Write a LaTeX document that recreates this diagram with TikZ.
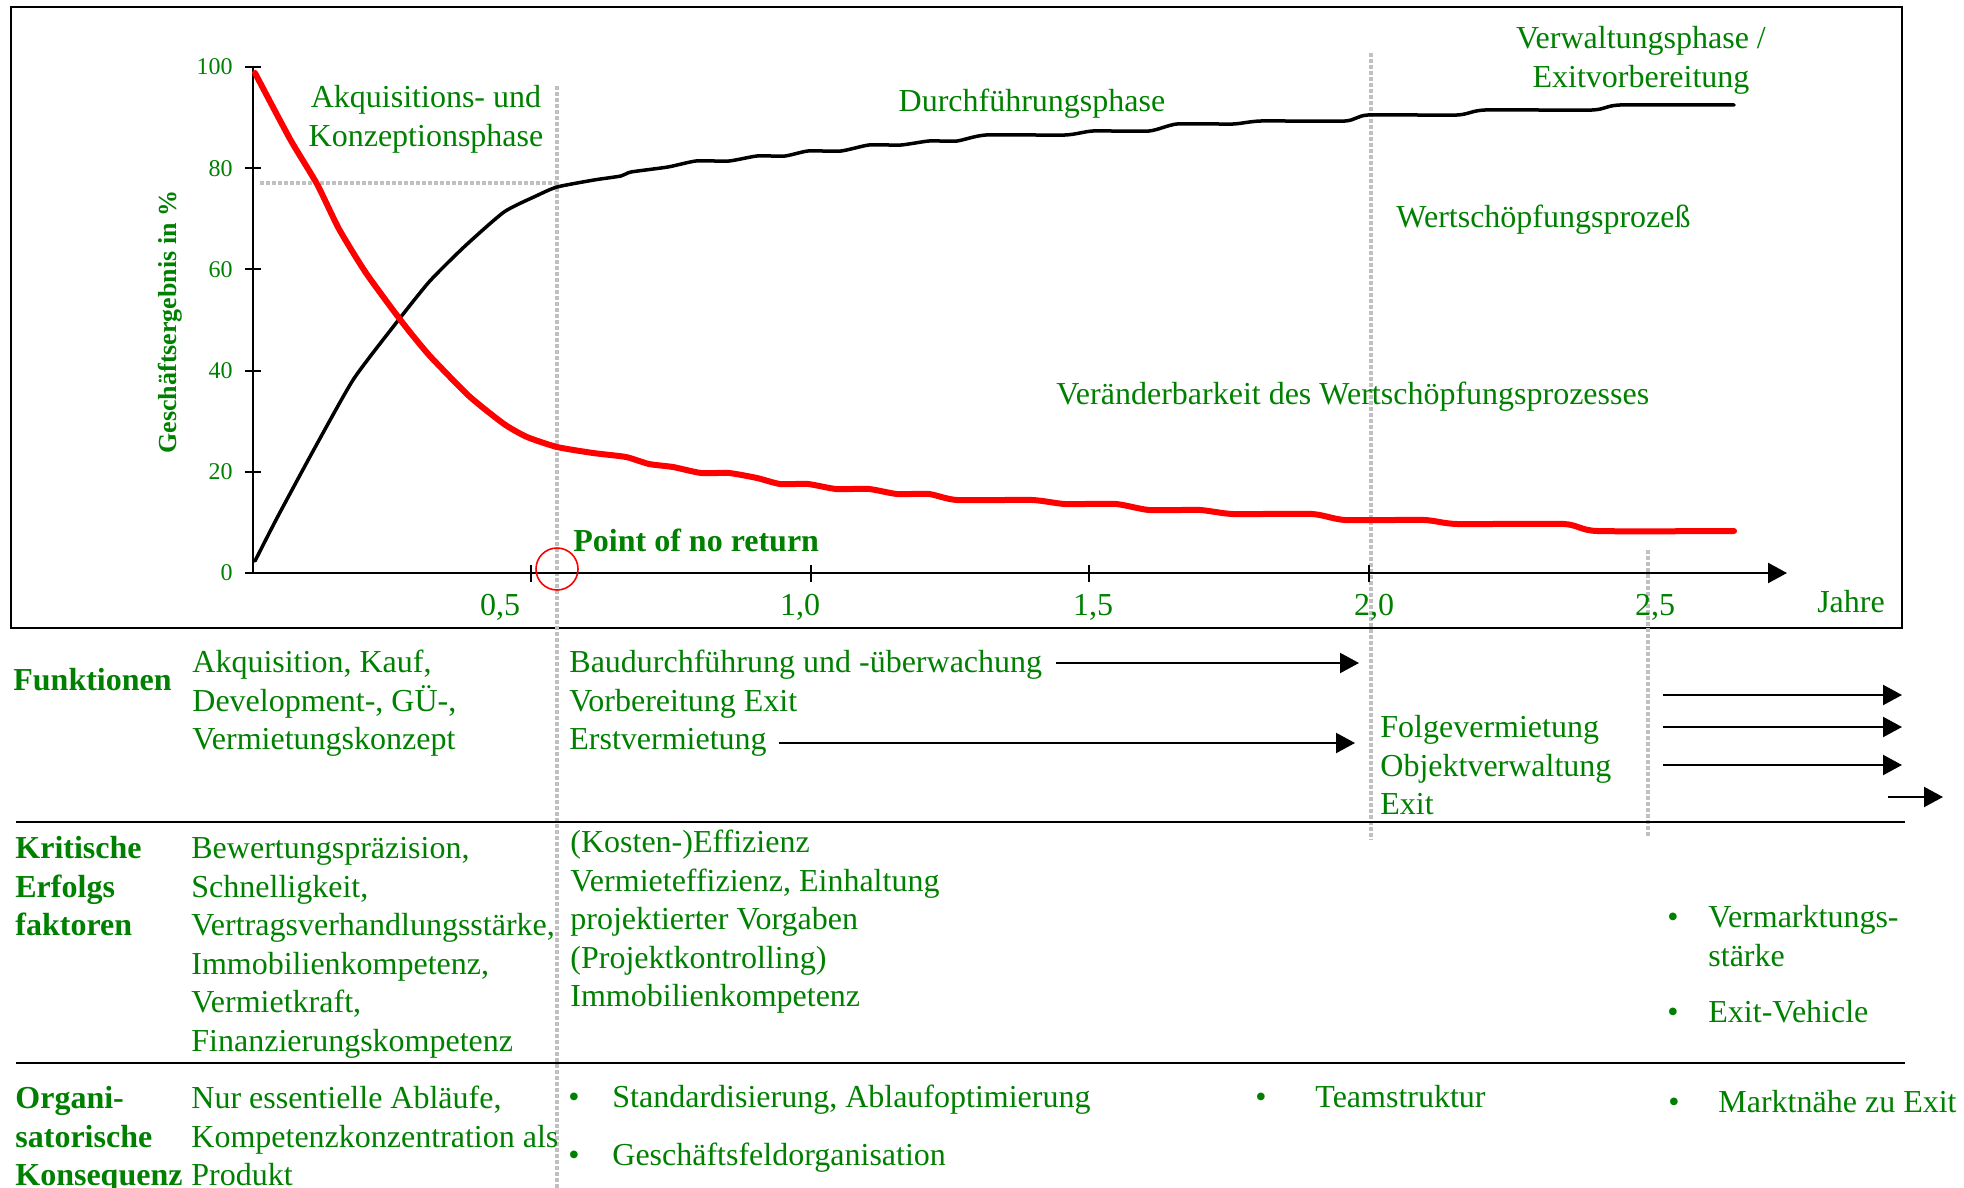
\documentclass[tikz,border=0pt]{standalone}
\usepackage{fontspec}
\setmainfont{Liberation Serif}
\usetikzlibrary{arrows.meta}
\definecolor{tgreen}{RGB}{0,128,0}
\definecolor{dgray}{RGB}{192,192,192}
\begin{document}
\begin{tikzpicture}[x=0.5pt,y=-0.5pt,
  txt/.style={text=tgreen,font=\fontsize{16}{19.3}\selectfont,inner sep=0pt},
  btxt/.style={text=tgreen,font=\fontsize{16}{19.3}\selectfont\bfseries,inner sep=0pt},
  ml/.style={align=left,anchor=north west},
  bl/.style={txt,anchor=base},
  arr/.style={line width=1.1pt,-{Triangle[length=9.5pt,width=10pt]}},
  axis/.style={line width=1.2pt},
  tick/.style={line width=1pt},
  dsh/.style={draw=dgray,line width=1.6pt,dash pattern=on 2pt off 1pt},
  ytl/.style={text=tgreen,font=\fontsize{12}{14}\selectfont,inner sep=0pt,anchor=east},
  xtl/.style={txt,anchor=base}]
\useasboundingbox (0,0) rectangle (1964,1188);
% frame of the chart
\draw[line width=1.2pt] (11,7) rectangle (1902,628);
% gray dashed guide lines
\draw[dsh] (557,86) -- (557,1188);
\draw[dsh] (1371,53) -- (1371,840);
\draw[dsh] (1648,550) -- (1648,836);
\draw[dsh] (260,183) -- (557,183);
% axes
\coordinate (O) at (253,573);
\coordinate (ytop) at (253,67);
\coordinate (xend) at (1787,573);
\draw[axis] (O) -- (ytop);
\draw[axis,-{Triangle[length=9.5pt,width=10pt]}] (O) -- (xend);
\foreach \v/\y in {100/67,80/168.2,60/269.4,40/370.6,20/471.8,0/573}{
  \draw[tick] (245,\y) -- (261,\y);
  \node[ytl] (yl\v) at (233,\y) {\v};
}
\foreach \x in {531,811,1089,1369}{
  \draw[tick] (\x,565) -- (\x,582);
}
\node[xtl] (x05) at (500,615) {0,5};
\node[xtl] (x10) at (800,615) {1,0};
\node[xtl] (x15) at (1093,615) {1,5};
\node[xtl] (x20) at (1374,615) {2,0};
\node[xtl] (x25) at (1655,615) {2,5};
\node[xtl] (jahre) at (1851,612) {Jahre};
\node[rotate=90,text=tgreen,font=\fontsize{13}{15}\selectfont\bfseries,inner sep=0pt] (ylab) at (170,322) {Geschäftsergebnis in \%};
% curves
\draw[black,line width=1.75pt,line cap=round,line join=round] plot[smooth,tension=0.35] coordinates {
 (255,561) (277,518) (312,453) (353,380) (393,327) (429,282) (464,247) (504,212) (536,196) (557,187)
 (594,180) (621,176) (631,172) (668,167) (696,161) (729,161) (757,156) (785,156) (808,151) (841,151)
 (869,145) (901,145) (929,141) (957,141) (986,135) (1065,135) (1093,131) (1149,131) (1177,124) (1233,124)
 (1261,121) (1345,121) (1368,115) (1457,115) (1485,110) (1592,110) (1620,105) (1734,105)};
\draw[red,line width=3pt,line cap=round,line join=round] plot[smooth,tension=0.35] coordinates {
 (255,73) (290,139) (317,184) (339,229) (366,273) (402,322) (429,355) (469,396) (504,424) (527,437) (557,447)
 (593,453) (626,457) (649,464) (673,467) (701,473) (729,473) (757,478) (780,484) (808,484) (836,489) (869,489)
 (897,494) (929,494) (957,500) (1032,500) (1065,504) (1116,504) (1149,510) (1200,510) (1233,514) (1312,514)
 (1345,520) (1424,520) (1457,524) (1564,524) (1597,531) (1734,531)};
% point of no return
\node[draw=red,line width=0.8pt,circle,minimum size=42*0.5pt,inner sep=0pt] (ponrc) at (557,569) {};
\node[btxt,anchor=base west] (ponr) at (573,551) {Point of no return};
% phase labels
\node[txt,align=center,anchor=north] (akq) at (426,80) {\strut Akquisitions- und\\Konzeptionsphase};
\node[txt,anchor=base] (durch) at (1032,112) {Durchführungsphase};
\node[txt,align=center,anchor=north] (verw) at (1641,21) {\strut Verwaltungsphase /\\Exitvorbereitung};
\node[txt,anchor=base west] (wert) at (1396,227) {Wertschöpfungsprozeß};
\node[txt,anchor=base west] (veraend) at (1056,404) {Veränderbarkeit des Wertschöpfungsprozesses};
% table separators
\draw[line width=1.2pt] (16,822) -- (1905,822);
\draw[line width=1.2pt] (16,1063) -- (1905,1063);
% row 1: Funktionen
\node[btxt,anchor=base west] (fkt) at (13,690) {Funktionen};
\node[txt,ml] (f2) at (192,645) {\strut Akquisition, Kauf,\\Development-, GÜ-,\\Vermietungskonzept};
\node[txt,ml] (f3) at (569,645) {\strut Baudurchführung und -überwachung\\Vorbereitung Exit\\Erstvermietung};
\node[txt,ml] (f4) at (1380,710) {\strut Folgevermietung\\Objektverwaltung\\Exit};
\coordinate (a1s) at (1056,663); \coordinate (a1e) at (1359,663);
\coordinate (a2s) at (779,743);  \coordinate (a2e) at (1355,743);
\coordinate (a3s) at (1663,695); \coordinate (a3e) at (1902,695);
\coordinate (a4s) at (1663,727); \coordinate (a4e) at (1902,727);
\coordinate (a5s) at (1663,765); \coordinate (a5e) at (1902,765);
\coordinate (a6s) at (1888,797); \coordinate (a6e) at (1943,797);
\draw[arr] (a1s) -- (a1e);
\draw[arr] (a2s) -- (a2e);
\draw[arr] (a3s) -- (a3e);
\draw[arr] (a4s) -- (a4e);
\draw[arr] (a5s) -- (a5e);
\draw[arr] (a6s) -- (a6e);
% row 2: Kritische Erfolgsfaktoren
\node[btxt,ml] (kef) at (15,831) {\strut Kritische\\Erfolgs\\faktoren};
\node[txt,ml] (k2) at (191,831) {\strut Bewertungspräzision,\\Schnelligkeit,\\Vertragsverhandlungsstärke,\\Immobilienkompetenz,\\Vermietkraft,\\Finanzierungskompetenz};
\node[txt,ml] (k3) at (570,825) {\strut (Kosten-)Effizienz\\Vermieteffizienz, Einhaltung\\projektierter Vorgaben\\(Projektkontrolling)\\Immobilienkompetenz};
\node[bl] (kb1) at (1673,927) {•};
\node[txt,ml] (k4a) at (1708,900) {\strut Vermarktungs-\\stärke};
\node[bl] (kb2) at (1673,1022) {•};
\node[txt,anchor=base west] (k4b) at (1708,1022) {Exit-Vehicle};
% row 3: Organisatorische Konsequenz
\node[btxt,ml] (org) at (15,1081) {\strut Organi-\\satorische\\Konsequenz};
\node[txt,ml] (o2) at (191,1081) {\strut Nur essentielle Abläufe,\\Kompetenzkonzentration als\\Produkt};
\node[bl] (ob1) at (574,1107) {•};
\node[txt,anchor=base west] (o3a) at (612,1107) {Standardisierung, Ablaufoptimierung};
\node[bl] (ob2) at (574,1165) {•};
\node[txt,anchor=base west] (o3b) at (612,1165) {Geschäftsfeldorganisation};
\node[bl] (ob3) at (1261,1107) {•};
\node[txt,anchor=base west] (o4) at (1315,1107) {Teamstruktur};
\node[bl] (ob4) at (1674,1112) {•};
\node[txt,anchor=base west] (o5) at (1718,1112) {Marktnähe zu Exit};
\end{tikzpicture}
\end{document}
